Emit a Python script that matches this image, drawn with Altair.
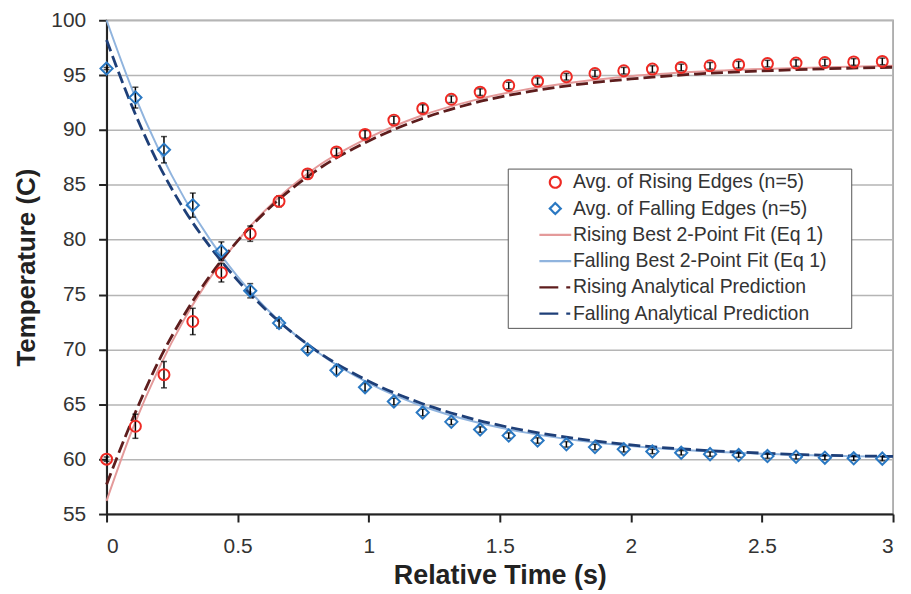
import altair as alt
import pandas as pd

SERIES = [
    "Avg. of Rising Edges (n=5)",
    "Avg. of Falling Edges (n=5)",
    "Rising Best 2-Point Fit (Eq 1)",
    "Falling Best 2-Point Fit (Eq 1)",
    "Rising Analytical Prediction",
    "Falling Analytical Prediction",
]
COLORS = ["#ee2a24", "#2a78c2", "#e49a9a", "#90b4de", "#5e1d1d", "#1e3f78"]

# measured averages (28 samples)
t_pts = [0.0, 0.11, 0.219, 0.329, 0.438, 0.548, 0.658, 0.767, 0.877, 0.986,
         1.096, 1.206, 1.315, 1.425, 1.534, 1.644, 1.754, 1.863, 1.973, 2.082,
         2.192, 2.302, 2.411, 2.521, 2.63, 2.74, 2.85, 2.959]
rise_avg = [60.0, 63.0, 67.7, 72.55, 77.0, 80.55, 83.5, 86.0, 88.0, 89.6,
            90.9, 91.95, 92.8, 93.45, 94.05, 94.45, 94.85, 95.15, 95.4, 95.55,
            95.7, 95.85, 95.95, 96.05, 96.1, 96.15, 96.2, 96.25]
rise_err = [0.2, 1.1, 1.2, 1.2, 0.85, 0.7, 0.5, 0.35, 0.35, 0.35,
            0.35, 0.35, 0.3, 0.3, 0.3, 0.3, 0.3, 0.3, 0.3, 0.3,
            0.3, 0.3, 0.3, 0.3, 0.3, 0.3, 0.3, 0.3]
fall_avg = [95.6, 92.95, 88.2, 83.15, 78.95, 75.35, 72.4, 70.0, 68.1, 66.55,
            65.25, 64.25, 63.4, 62.7, 62.15, 61.7, 61.35, 61.1, 60.9, 60.7,
            60.58, 60.46, 60.37, 60.28, 60.22, 60.14, 60.08, 60.05]
fall_err = [0.1, 0.95, 1.2, 1.1, 0.85, 0.65, 0.45, 0.3, 0.4, 0.35,
            0.3, 0.3, 0.25, 0.25, 0.25, 0.25, 0.25, 0.25, 0.25, 0.2,
            0.2, 0.2, 0.2, 0.2, 0.2, 0.2, 0.2, 0.2]

# curves
t_fit = [0.0, 0.1, 0.2, 0.3, 0.4, 0.5, 0.6, 0.8, 1.0, 1.2, 1.4, 1.6, 1.8, 2.0,
         2.25, 2.5, 2.75, 3.0]
rise_fit = [56.2, 62.8, 68.3, 72.9, 76.7, 79.9, 82.55, 86.6, 89.3, 91.3, 92.7,
            93.7, 94.4, 94.9, 95.3, 95.55, 95.72, 95.85]
fall_fit = [100.0, 93.56, 88.16, 83.63, 79.83, 76.64, 73.96, 69.83, 66.92, 64.87,
            63.43, 62.42, 61.7, 61.2, 60.77, 60.5, 60.32, 60.21]
rise_pred = [57.7, 63.7, 69.0, 73.3, 76.9, 79.9, 82.4, 86.3, 89.0, 91.0, 92.45,
             93.45, 94.15, 94.65, 95.1, 95.38, 95.58, 95.72]
fall_pred = [98.2, 92.0, 86.8, 82.6, 79.2, 76.3, 73.8, 69.9, 67.1, 65.1, 63.65,
             62.6, 61.85, 61.3, 60.85, 60.55, 60.35, 60.25]

rise_df = pd.DataFrame({"t": t_pts, "temp": rise_avg, "err": rise_err})
fall_df = pd.DataFrame({"t": t_pts, "temp": fall_avg, "err": fall_err})
err_df = pd.concat([rise_df, fall_df], ignore_index=True)
err_df["lo"] = err_df["temp"] - err_df["err"]
err_df["hi"] = err_df["temp"] + err_df["err"]

FONT = "Liberation Sans"
XS = alt.Scale(domain=[0, 3], nice=False, zero=False)
YS = alt.Scale(domain=[55, 100], nice=False, zero=False)
X = alt.X("t:Q", scale=XS,
          axis=alt.Axis(values=[0, 0.5, 1, 1.5, 2, 2.5, 3], format=".1~f",
                        title="Relative Time (s)", grid=False))
YAX = alt.Axis(values=list(range(55, 101, 5)), title="Temperature (C)", grid=True)


def Y(field):
    return alt.Y(f"{field}:Q", scale=YS, axis=YAX)


def curve(ts, vals, col, width, dash=None):
    kw = dict(color=col, strokeWidth=width, interpolate="monotone")
    if dash:
        kw["strokeDash"] = dash
    return alt.Chart(pd.DataFrame({"t": ts, "temp": vals})).mark_line(**kw).encode(
        x=X, y=Y("temp"))


fitR = curve(t_fit, rise_fit, COLORS[2], 2)
fitF = curve(t_fit, fall_fit, COLORS[3], 2)
predR = curve(t_fit, rise_pred, COLORS[4], 2.8, [12, 5])
predF = curve(t_fit, fall_pred, COLORS[5], 2.8, [12, 5])

err_rule = alt.Chart(err_df).mark_rule(color="black", strokeWidth=1.5).encode(
    x=X, y=Y("lo"), y2="hi:Q")
cap_lo = alt.Chart(err_df).mark_tick(color="black", orient="horizontal", size=6,
                                     thickness=1.5).encode(x=X, y=Y("lo"))
cap_hi = alt.Chart(err_df).mark_tick(color="black", orient="horizontal", size=6,
                                     thickness=1.5).encode(x=X, y=Y("hi"))
ptsR = alt.Chart(rise_df).mark_point(shape="circle", filled=False, size=121,
                                     strokeWidth=2, color=COLORS[0], opacity=1).encode(
    x=X, y=Y("temp"))
ptsF = alt.Chart(fall_df).mark_point(shape="diamond", filled=False, size=150,
                                     strokeWidth=2, color=COLORS[1], opacity=1).encode(
    x=X, y=Y("temp"))

# legend (symbols styled by the scales; the keyed rows lie outside the plot)
LINE = "M-8,0L52.5,0"
SHAPES = ["circle", "diamond", LINE, LINE, LINE, LINE]
SOLID = [0, 28, 32, 1000]
DASHED = [0, 28, 19, 8, 4, 1000]
DASHES = [[1, 0], [1, 0], SOLID, SOLID, DASHED, DASHED]
key_df = pd.DataFrame({"t": [-1.0] * 6, "temp": [0.0] * 6, "series": SERIES})
leg = alt.Legend(title=None, orient="none", legendX=403, legendY=149,
                 labelFont=FONT, labelFontSize=19.5, labelColor="#333",
                 symbolSize=121, symbolStrokeWidth=2.2, fillColor="white",
                 strokeColor="#555", padding=4, rowPadding=5.4, labelOffset=8,
                 symbolOffset=34, labelLimit=400)
key = alt.Chart(key_df).mark_point(filled=False, clip=True, opacity=1,
                                   strokeWidth=2).encode(
    x=X, y=Y("temp"),
    color=alt.Color("series:N", scale=alt.Scale(domain=SERIES, range=COLORS), legend=leg),
    shape=alt.Shape("series:N", scale=alt.Scale(domain=SERIES, range=SHAPES), legend=leg),
    strokeDash=alt.StrokeDash("series:N", scale=alt.Scale(domain=SERIES, range=DASHES),
                              legend=leg),
)

chart = alt.layer(fitR, fitF, predR, predF, err_rule, cap_lo, cap_hi, ptsR, ptsF,
                  key).properties(
    width=790, height=496,
    autosize=alt.AutoSizeParams(type="none"),
    padding={"left": 99, "top": 11, "right": 10, "bottom": 76},
).configure_view(stroke="#999", strokeWidth=1.5).configure_axis(
    labelFont=FONT, titleFont=FONT, labelFontSize=21, titleFontSize=26,
    titleFontWeight="bold", labelColor="#333", titleColor="#222",
    domainColor="#222", domainWidth=2, tickColor="#222", tickWidth=2,
    tickSize=8, gridColor="#b5b5b5", gridWidth=1.5,
).configure_axisX(labelPadding=14, titlePadding=6, titleFontSize=27).configure_axisY(
    labelPadding=13, titlePadding=11)

chart.save("out.html", embed_options={"renderer": "svg", "actions": False})
